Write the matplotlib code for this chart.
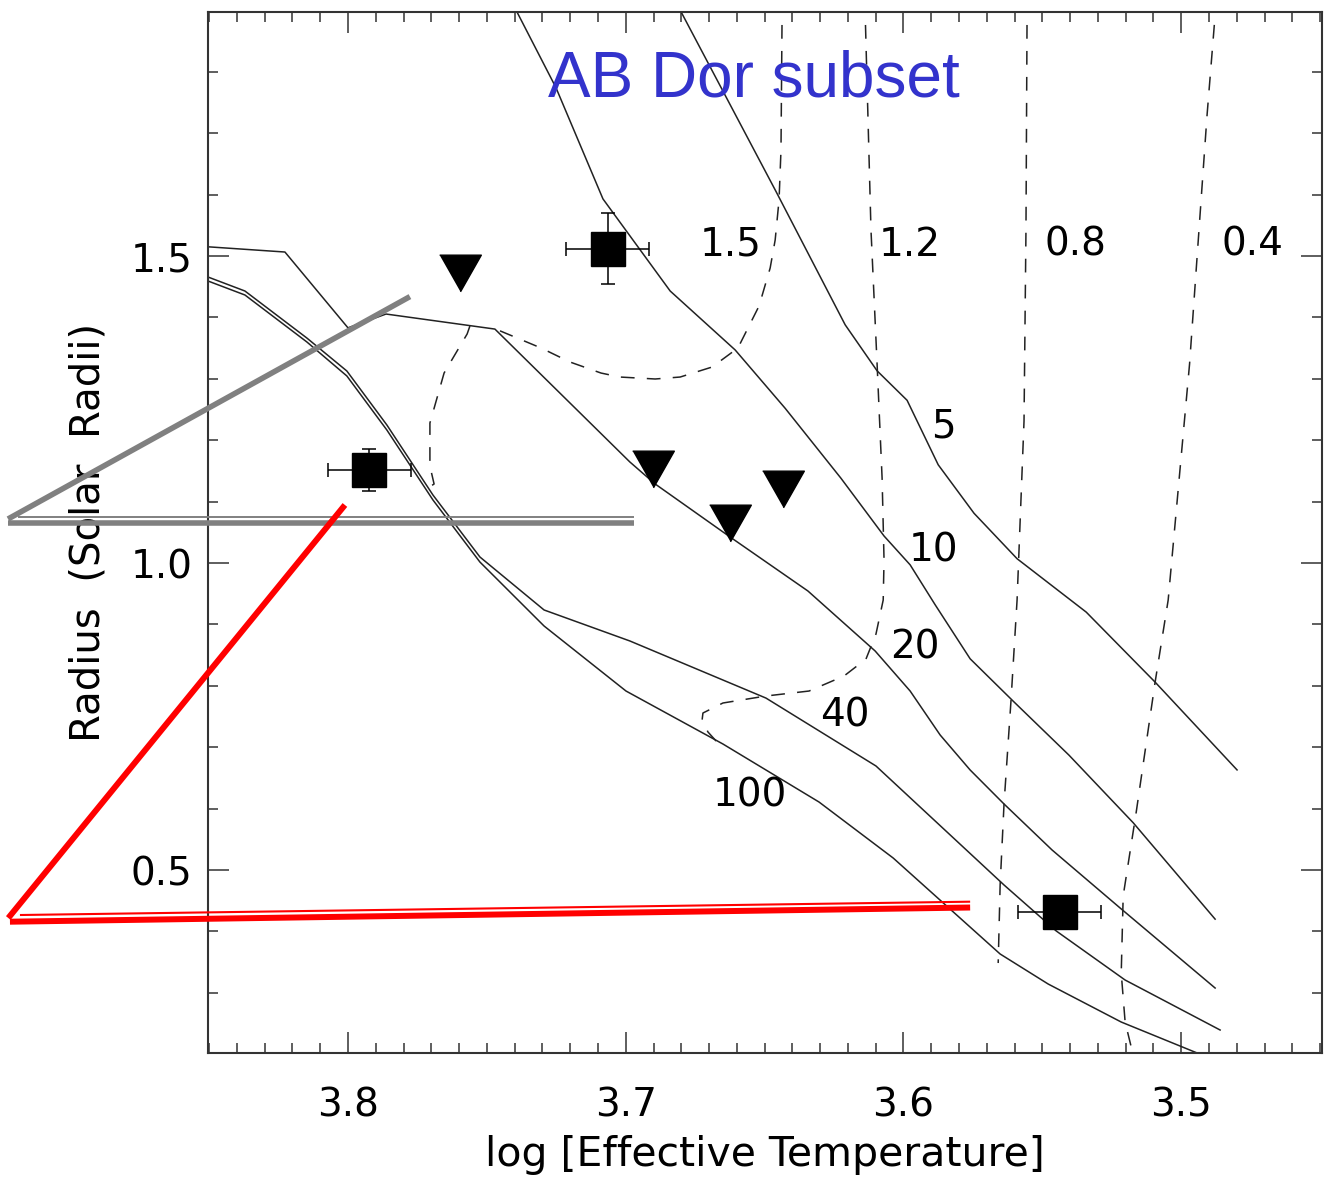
import matplotlib
matplotlib.use("Agg")
from matplotlib import pyplot as plt
from matplotlib.ticker import MultipleLocator, FormatStrFormatter

# isochrones (solid lines), log Teff vs radius
iso5_logt = [3.686, 3.680, 3.646, 3.621, 3.6095, 3.5987, 3.5875, 3.5746, 3.5591, 3.5342, 3.5094, 3.4799]
iso5_rad = [1.946, 1.897, 1.606, 1.388, 1.313, 1.265, 1.160, 1.081, 1.007, 0.920, 0.806, 0.663]

iso10_logt = [3.7445, 3.7391, 3.7251, 3.7082, 3.684, 3.6606, 3.6426, 3.6225, 3.607, 3.5976, 3.5886,
              3.576, 3.5605, 3.5404, 3.5173, 3.4878]
iso10_rad = [1.946, 1.897, 1.774, 1.593, 1.443, 1.347, 1.252, 1.138, 1.044, 0.997, 0.932,
             0.844, 0.775, 0.687, 0.577, 0.420]

iso20_logt = [3.8504, 3.8227, 3.800, 3.7863, 3.7471, 3.6985, 3.6894, 3.6624, 3.6344, 3.6102, 3.5976,
              3.5868, 3.576, 3.5638, 3.5465, 3.522, 3.4878]
iso20_rad = [1.515, 1.5065, 1.383, 1.4055, 1.381, 1.1645, 1.1287, 1.0423, 0.9544, 0.8567, 0.7915,
             0.7199, 0.6629, 0.6075, 0.5326, 0.4381, 0.3078]

iso40_logt = [3.8504, 3.8371, 3.8148, 3.8004, 3.786, 3.7694, 3.7525, 3.7294, 3.6985, 3.6495, 3.6099,
              3.5638, 3.545, 3.5202, 3.486]
iso40_rad = [1.4658, 1.443, 1.3664, 1.3127, 1.2248, 1.1107, 1.0098, 0.9235, 0.873, 0.780, 0.6694,
             0.4756, 0.4007, 0.3208, 0.2394]

iso100_logt = [3.8504, 3.8371, 3.8148, 3.8004, 3.786, 3.7694, 3.7525, 3.7294, 3.6999, 3.665, 3.6304,
               3.6037, 3.5652, 3.5479, 3.5216, 3.4925]
iso100_rad = [1.4593, 1.4365, 1.360, 1.3046, 1.2166, 1.1026, 1.0016, 0.8974, 0.7915, 0.7052, 0.6107,
              0.5195, 0.3632, 0.3143, 0.2524, 0.1987]

iso_labels = ["5", "10", "20", "40", "100"]
iso_label_logt = [3.5857, 3.5893, 3.5958, 3.621, 3.6552]
iso_label_rad = [1.222, 1.021, 0.862, 0.751, 0.621]

# mass tracks (dashed)
trk15_logt = [3.6437, 3.6437, 3.6441, 3.6448, 3.6462, 3.648, 3.652, 3.6596, 3.6689, 3.6804, 3.6894,
              3.7021, 3.7089, 3.7201, 3.7305, 3.746]
trk15_rad = [1.933, 1.897, 1.6726, 1.5912, 1.526, 1.4805, 1.4186, 1.3502, 1.3192, 1.3029, 1.2997,
             1.3029, 1.3094, 1.3274, 1.3502, 1.3795]

trk12_logt = [3.6138, 3.6138, 3.6117, 3.6095, 3.6077, 3.607, 3.6073, 3.6099, 3.6135, 3.6214, 3.634,
              3.6495, 3.665, 3.6722, 3.6725, 3.6704, 3.6668]
trk12_rad = [1.933, 1.897, 1.5423, 1.3241, 1.1384, 1.0049, 0.9397, 0.8844, 0.8436, 0.816, 0.7915,
             0.7834, 0.772, 0.7557, 0.7443, 0.7248, 0.7068]

trk08_logt = [3.5555, 3.5555, 3.5559, 3.5566, 3.5591, 3.5613, 3.5638, 3.5652, 3.5659]
trk08_rad = [1.933, 1.897, 1.5423, 1.2313, 0.9397, 0.7752, 0.6075, 0.4756, 0.3485]

trk04_logt = [3.4871, 3.4878, 3.4907, 3.497, 3.5047, 3.5094, 3.5162, 3.5209, 3.5216, 3.5202, 3.518]
trk04_rad = [1.933, 1.8925, 1.7296, 1.3241, 0.9397, 0.806, 0.5945, 0.4577, 0.3322, 0.2524, 0.2117]

trk16_logt = [3.7561, 3.7571, 3.7654, 3.7705, 3.7705, 3.769, 3.7712]
trk16_rad = [1.386, 1.373, 1.3094, 1.228, 1.158, 1.1287, 1.1221]

mass_labels = ["1.5", "1.2", "0.8", "0.4"]
mass_label_logt = [3.6624, 3.5976, 3.5382, 3.4745]
mass_label_rad = [1.518, 1.518, 1.518, 1.518]

# AB Dor members
sq_logt = [3.7065, 3.7923, 3.5438]
sq_rad = [1.5117, 1.1515, 0.4324]
sq_xerr = [0.015, 0.015, 0.015]
sq_yerr = [0.0577, 0.0345, 0.02]

tri_logt = [3.7595, 3.6902, 3.6626, 3.6434]
tri_rad = [1.4728, 1.1531, 1.0658, 1.1213]

# overlaid callout strokes
gray_diag_x = [3.9224, 3.7777]
gray_diag_y = [1.0717, 1.4339]
gray_thick_x = [3.9224, 3.697]
gray_thick_y = [1.0651, 1.0651]
gray_thin_x = [3.9188, 3.697]
gray_thin_y = [1.0749, 1.0749]

red_diag_x = [3.9223, 3.8011]
red_diag_y = [0.4218, 1.0945]
red_thick_x = [3.9217, 3.576]
red_thick_y = [0.4158, 0.4389]
red_thin_x = [3.9181, 3.576]
red_thin_y = [0.4267, 0.4484]

fig = plt.figure(figsize=(13.35, 11.89), dpi=100)
ax = fig.add_axes([0.1558, 0.1144, 0.8345, 0.8755])

line_kw = dict(color="#222222", lw=1.1)
for xs, ys in [(iso5_logt, iso5_rad), (iso10_logt, iso10_rad), (iso20_logt, iso20_rad),
               (iso40_logt, iso40_rad), (iso100_logt, iso100_rad)]:
    ax.plot(xs, ys, **line_kw)

for xs, ys in [(trk15_logt, trk15_rad), (trk12_logt, trk12_rad), (trk08_logt, trk08_rad),
               (trk04_logt, trk04_rad), (trk16_logt, trk16_rad)]:
    ax.plot(xs, ys, color="#222222", lw=1.1, ls=(0, (9, 8)))

for lab, x, y in zip(iso_labels, iso_label_logt, iso_label_rad):
    ax.text(x, y, lab, fontsize=28, ha="center", va="center")
for lab, x, y in zip(mass_labels, mass_label_logt, mass_label_rad):
    ax.text(x, y, lab, fontsize=28, ha="center", va="center")

ax.errorbar(sq_logt, sq_rad, xerr=sq_xerr, yerr=sq_yerr, fmt="s", color="black",
            ms=24, elinewidth=1.1, capsize=4.7, capthick=1.1, zorder=5)
tri_marker = [(-1, 0.88), (1, 0.88), (0, -0.88)]
ax.plot(tri_logt, tri_rad, ls="none", marker=tri_marker, ms=30, color="black", zorder=5)

ax.plot(gray_diag_x, gray_diag_y, color="#808080", lw=4.0, clip_on=False, zorder=6,
        solid_capstyle="butt")
ax.plot(gray_thick_x, gray_thick_y, color="#808080", lw=4.0, clip_on=False, zorder=6,
        solid_capstyle="butt")
ax.plot(gray_thin_x, gray_thin_y, color="#808080", lw=1.4, clip_on=False, zorder=6,
        solid_capstyle="butt")
ax.plot(red_diag_x, red_diag_y, color="#ff0000", lw=4.3, clip_on=False, zorder=6,
        solid_capstyle="butt")
ax.plot(red_thick_x, red_thick_y, color="#ff0000", lw=4.3, clip_on=False, zorder=6,
        solid_capstyle="butt")
ax.plot(red_thin_x, red_thin_y, color="#ff0000", lw=1.5, clip_on=False, zorder=6,
        solid_capstyle="butt")

ax.text(3.728, 1.760, "AB Dor subset", fontsize=46, color="#3333cc",
        family="Liberation Sans", ha="left", va="baseline")

ax.set_xlim(3.8504, 3.4493)
ax.set_ylim(0.202, 1.8974)
ax.xaxis.set_major_locator(MultipleLocator(0.1))
ax.xaxis.set_minor_locator(MultipleLocator(0.01))
ax.yaxis.set_major_locator(MultipleLocator(0.5))
ax.yaxis.set_minor_locator(MultipleLocator(0.1))
ax.xaxis.set_major_formatter(FormatStrFormatter("%.1f"))
ax.yaxis.set_major_formatter(FormatStrFormatter("%.1f"))
ax.tick_params(which="both", direction="in", top=True, right=True, width=1.1, color="#333333")
ax.tick_params(which="major", length=15, labelsize=28)
ax.tick_params(which="minor", length=7.5)
ax.tick_params(axis="x", which="major", pad=24)
ax.tick_params(axis="y", which="major", pad=11)
for s in ax.spines.values():
    s.set_linewidth(1.5)
    s.set_color("#333333")

ax.set_xlabel("log [Effective Temperature]", fontsize=29.5, labelpad=8)
ax.set_ylabel("Radius  (Solar  Radii)", fontsize=29, labelpad=16)

fig.savefig("out.png", dpi=100)
